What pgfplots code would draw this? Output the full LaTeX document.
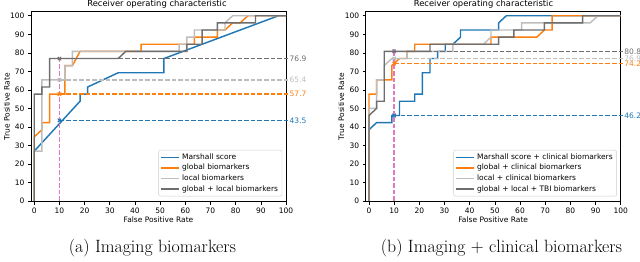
\documentclass[border=0pt]{standalone}
\usepackage{pgfplots}
\pgfplotsset{compat=1.18}
\usepackage{fontspec}
\newfontfamily\dv{DejaVu Sans}
\definecolor{mblue}{HTML}{1F77B4}
\definecolor{morange}{HTML}{FF7F0E}
\definecolor{lgray}{HTML}{BDBDBD}
\definecolor{dgray}{HTML}{6E6E6E}
\definecolor{mpink}{HTML}{E377C2}
\newcommand{\tf}{\dv\fontsize{7.5}{9}\selectfont}
\tikzset{
  curve/.style={line width=1.45pt, line join=miter},
  dsh/.style={line width=1.3pt, dash pattern=on 4.6pt off 2pt},
}
\pgfplotsset{
  rocax/.style={
    scale only axis, width=255pt, height=190pt, anchor=south west,
    xmin=-1.3, xmax=100, ymin=-0.4, ymax=102.2,
    xtick={0,10,...,100}, ytick={0,10,...,100},
    tick align=outside, tick pos=left, major tick length=3pt,
    every tick/.style={black, line width=0.6pt},
    axis line style={black, line width=0.7pt},
    ticklabel style={font=\tf},
    xticklabel style={yshift=0.5pt},
    /pgf/number format/assume math mode=true,
    clip=false,
    xlabel={False Positive Rate}, ylabel={True Positive Rate},
    label style={font=\tf},
    xlabel style={at={(0.5,0)}, anchor=base, yshift=-20.5pt, inner sep=0pt},
    ylabel style={at={(0,0.5)}, anchor=base, yshift=21.5pt, inner sep=0pt},
    legend style={at={(0.985,0.028)}, anchor=south east, font=\tf,
      draw=black!20, rounded corners=2pt, inner xsep=2pt, inner ysep=1.5pt,
      row sep=-0.6pt, fill=white},
    legend cell align=left,
  },
  mk/.style={only marks, mark=x, mark size=2.4pt, mark options={line width=1pt, solid}, forget plot},
}
\begin{document}
\begin{tikzpicture}
\useasboundingbox (0,0) rectangle (640pt,262pt);
% ---------------- (a) ----------------
\begin{axis}[rocax, at={(31pt,60.3pt)},
  legend image code/.code={\draw[#1] (0pt,0pt) -- (18pt,0pt);}]
\addplot[curve, color=mblue] coordinates {(0,0)(0,26.92)(18.18,53.85)(18.18,57.69)(21.21,57.69)(21.21,61.54)(33.33,69.23)(51.52,69.23)(51.52,76.92)(96.97,100)(100,100)};
\addlegendentry{Marshall score}
\addplot[curve, color=morange] coordinates {(0,0)(0,34.62)(3.03,38.46)(3.03,42.31)(6.06,42.31)(6.06,57.69)(12.12,57.69)(12.12,73.08)(15.15,73.08)(18.18,80.77)(42.42,80.77)(42.42,84.62)(63.64,84.62)(63.64,88.46)(72.73,88.46)(72.73,92.31)(75.76,92.31)(78.79,96.15)(81.82,96.15)(84.85,100)(100,100)};
\addlegendentry{global biomarkers}
\addplot[curve, color=lgray] coordinates {(0,0)(0,26.92)(3.03,26.92)(3.03,65.38)(12.12,65.38)(12.12,73.08)(15.15,73.08)(15.15,80.77)(57.58,80.77)(57.58,84.62)(60.61,84.62)(60.61,88.46)(63.64,88.46)(63.64,92.31)(75.76,92.31)(75.76,96.15)(78.79,100)(100,100)};
\addlegendentry{local biomarkers}
\addplot[curve, color=dgray] coordinates {(0,0)(0,57.69)(3.03,57.69)(3.03,61.54)(6.06,61.54)(6.06,76.92)(33.33,76.92)(36.36,80.77)(60.61,80.77)(60.61,84.62)(66.67,84.62)(66.67,92.31)(72.73,92.31)(72.73,96.15)(87.88,96.15)(87.88,100)(100,100)};
\addlegendentry{global + local biomarkers}
\addplot[dsh, color=mblue, forget plot] coordinates {(10,43.5)(101,43.5)};
\addplot[dsh, color=morange, forget plot] coordinates {(10,57.69)(101,57.69)};
\addplot[dsh, color=lgray, forget plot] coordinates {(10,65.38)(101,65.38)};
\addplot[dsh, color=dgray, forget plot] coordinates {(10,76.92)(101,76.92)};
\addplot[dsh, color=mpink, forget plot] coordinates {(10,0)(10,78)};
\addplot[mk, color=mblue] coordinates {(10,43.5)};
\addplot[mk, color=morange] coordinates {(10,57.69)};
\addplot[mk, color=lgray] coordinates {(10,65.38)};
\addplot[mk, color=dgray] coordinates {(10,76.92)};
\node[anchor=west, inner sep=0.5pt, text=mblue, font=\tf] at (axis cs:101.2,43.5) {43.5};
\node[anchor=west, inner sep=0.5pt, text=morange, font=\tf] at (axis cs:101.2,57.69) {57.7};
\node[anchor=west, inner sep=0.5pt, text=lgray, font=\tf] at (axis cs:101.2,65.38) {65.4};
\node[anchor=west, inner sep=0.5pt, text=dgray, font=\tf] at (axis cs:101.2,76.92) {76.9};
\end{axis}
% ---------------- (b) ----------------
\begin{axis}[rocax, at={(365.7pt,60.3pt)},
  legend image code/.code={\draw[#1] (0pt,0pt) -- (18pt,0pt);}]
\addplot[curve, color=mblue] coordinates {(0,0)(0,38.46)(3.03,42.31)(9.09,42.31)(9.09,46.15)(12.12,46.15)(12.12,53.85)(18.18,53.85)(18.18,57.69)(21.21,57.69)(21.21,69.23)(24.24,69.23)(24.24,76.92)(27.27,76.92)(27.27,80.77)(30.30,80.77)(30.30,84.62)(33.33,84.62)(36.36,88.46)(36.36,92.31)(51.52,92.31)(51.52,96.15)(54.55,100)(100,100)};
\addlegendentry{Marshall score + clinical biomarkers}
\addplot[curve, color=morange] coordinates {(0,0)(0,57.69)(3.03,57.69)(3.03,65.38)(9.09,65.38)(9.09,73.08)(12.12,76.92)(15.15,76.92)(15.15,80.77)(18.18,80.77)(18.18,84.62)(48.48,84.62)(48.48,88.46)(66.67,88.46)(69.70,92.31)(72.73,92.31)(72.73,100)(100,100)};
\addlegendentry{global + clinical biomarkers}
\addplot[curve, color=lgray] coordinates {(0,0)(0,50)(3.03,50)(3.03,65.38)(6.06,65.38)(6.06,73.08)(9.09,76.92)(15.15,76.92)(15.15,80.77)(33.33,80.77)(33.33,84.62)(45.45,84.62)(48.48,88.46)(48.48,92.31)(60.61,92.31)(60.61,96.15)(87.88,96.15)(90.91,100)(100,100)};
\addlegendentry{local + clinical biomarkers}
\addplot[curve, color=dgray] coordinates {(0,0)(0,46.15)(3.03,50)(3.03,53.85)(6.06,53.85)(6.06,80.77)(24.24,80.77)(24.24,84.62)(51.52,84.62)(51.52,88.46)(57.58,88.46)(57.58,92.31)(69.70,92.31)(69.70,96.15)(84.85,96.15)(84.85,100)(100,100)};
\addlegendentry{global + local + TBI biomarkers}
\addplot[dsh, color=mblue, forget plot] coordinates {(10,46.15)(101,46.15)};
\addplot[dsh, color=morange, forget plot] coordinates {(10,74.2)(101,74.2)};
\addplot[dsh, color=lgray, forget plot] coordinates {(10,76.92)(101,76.92)};
\addplot[dsh, color=dgray, forget plot] coordinates {(10,80.77)(101,80.77)};
\addplot[dsh, color=mpink, forget plot] coordinates {(10,0)(10,82)};
\addplot[mk, color=mblue] coordinates {(10,46.15)};
\addplot[mk, color=morange] coordinates {(10,74.2)};
\addplot[mk, color=lgray] coordinates {(10,76.92)};
\addplot[mk, color=dgray] coordinates {(10,80.77)};
\node[anchor=west, inner sep=0.5pt, text=mblue, font=\tf] at (axis cs:101.2,46.15) {46.2};
\node[anchor=west, inner sep=0.5pt, text=morange, font=\tf] at (axis cs:101.2,74.2) {74.2};
\node[anchor=west, inner sep=0.5pt, text=lgray, font=\tf] at (axis cs:101.2,76.92) {76.9};
\node[anchor=west, inner sep=0.5pt, text=dgray, font=\tf] at (axis cs:101.2,80.77) {80.8};
\end{axis}
\node[anchor=base, inner sep=0pt, font=\dv\fontsize{8.4}{10}\selectfont] at (157pt,255.5pt) {Receiver operating characteristic};
\node[anchor=base, inner sep=0pt, font=\dv\fontsize{8.4}{10}\selectfont] at (483.5pt,255.5pt) {Receiver operating characteristic};
\node[font=\fontsize{17.8}{20}\selectfont] at (152.5pt,14pt) {(a) Imaging biomarkers};
\node[font=\fontsize{17.8}{20}\selectfont] at (501.5pt,14pt) {(b) Imaging + clinical biomarkers};
\end{tikzpicture}
\end{document}
